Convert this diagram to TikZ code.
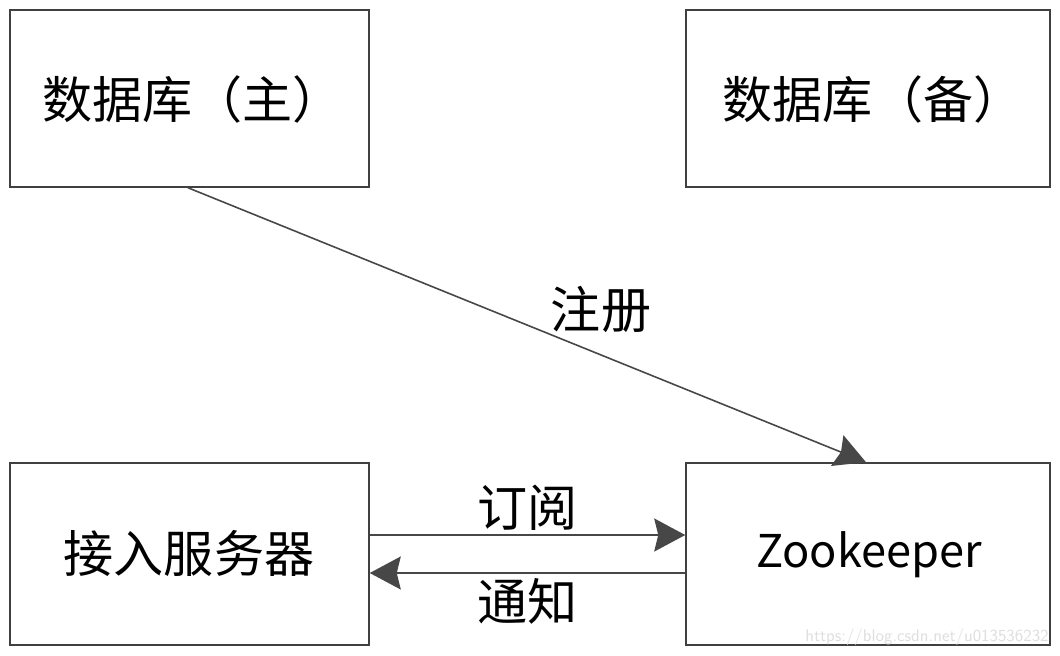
\documentclass[tikz,border=0pt]{standalone}
\usepackage{fontspec}
\newfontfamily\cjk{Noto Sans CJK SC}
\usetikzlibrary{arrows.meta}

\begin{document}
\begin{tikzpicture}[x=0.02cm,y=-0.02cm,
        box/.style={draw=black!75,line width=0.9pt,inner sep=0pt,minimum height=3.54cm},
        lbl/.style={font=\cjk\fontsize{28.5}{32}\selectfont},
        link/.style={draw=black!72,line width=0.9pt,-{Stealth[length=0.62cm,width=0.66cm,inset=0.08cm]}}]
        \useasboundingbox[fill=white] (0,0) rectangle (1060,655);

        % databases
        \node[box,minimum width=7.18cm] (dbmain) at (189.5,98.5) {};
        \node[lbl,anchor=center] (dbmaintxt) at (192.5,99) {数据库（主）};
        \node[box,minimum width=7.28cm] (dbback) at (868,98.5) {};
        \node[lbl,anchor=center] (dbbacktxt) at (873,99) {数据库（备）};

        % server and zookeeper
        \node[box,minimum width=7.18cm,minimum height=3.64cm] (server) at (189.5,554) {};
        \node[lbl,anchor=center] (servertxt) at (189,553) {接入服务器};
        \node[font=\cjk\fontsize{25.7}{30}\selectfont,anchor=center] (zktxt) at (869,555) {Zookeeper};
        \node[box,minimum width=7.28cm,minimum height=3.64cm] (zk) at (868,554) {};

        % connectors
        \draw[link] ([xshift=-0.03cm]dbmain.south) -- ([xshift=-0.04cm]zk.north);
        \node[lbl] (reg) at (601,310) {注册};

        \draw[link] ([yshift=0.38cm]server.east) -- ([yshift=0.38cm]zk.west)
            node[lbl,midway,above=-1pt] (sub) {订阅};
        \draw[link] ([yshift=-0.38cm]zk.west) -- ([yshift=-0.38cm]server.east)
            node[lbl,midway,below=-1pt] (notify) {通知};

        \node[font=\sffamily\fontsize{9.6}{11}\selectfont,text=black!13,anchor=east,inner sep=0pt] (mark) at (1049,637) {https://blog.csdn.net/u013536232};
    \end{tikzpicture}
\end{document}
